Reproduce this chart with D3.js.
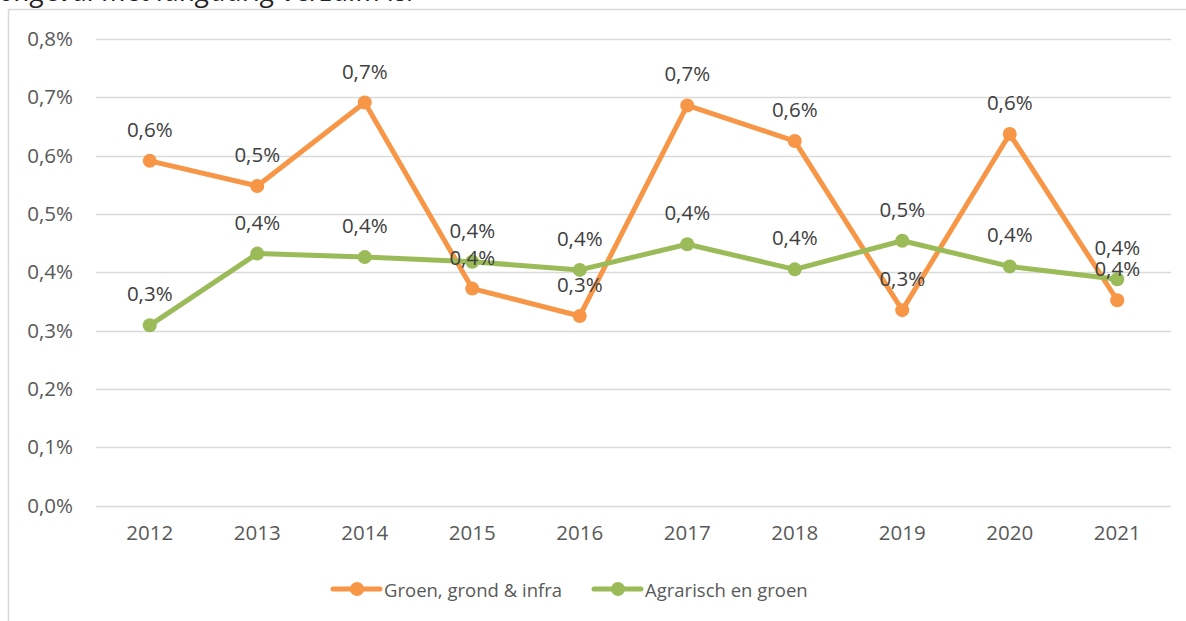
<!DOCTYPE html>
<html>
<head>
<meta charset="utf-8">
<script src="https://cdn.jsdelivr.net/npm/d3@7"></script>
<style>
  html, body { margin: 0; padding: 0; background: #fff; }
  svg { display: block; }
</style>
</head>
<body>
<svg id="chart" width="1186" height="621"></svg>
<script>
const years = ["2012","2013","2014","2015","2016","2017","2018","2019","2020","2021"];
const groenGrondInfra = [0.591, 0.548, 0.691, 0.372, 0.325, 0.686, 0.625, 0.335, 0.637, 0.352];
const agrarischGroen  = [0.309, 0.432, 0.426, 0.418, 0.404, 0.448, 0.405, 0.454, 0.410, 0.388];
const yTicks = [0, 0.1, 0.2, 0.3, 0.4, 0.5, 0.6, 0.7, 0.8];
const seriesNames = ["Groen, grond & infra", "Agrarisch en groen"];
const seriesColors = ["#F79646", "#9BBB59"];
const titleText = "ongeval met langdurig verzuim is.";

const series = [
  { name: seriesNames[0], color: seriesColors[0], values: groenGrondInfra },
  { name: seriesNames[1], color: seriesColors[1], values: agrarischGroen }
];

const svg = d3.select("#chart");
const font = "'Open Sans', 'Noto Sans', sans-serif";
const textColor = "#595959";
const fmt = v => d3.format(".1f")(v).replace(".", ",") + "%";

// cut-off title
svg.append("text")
  .attr("x", -1).attr("y", 0.5)
  .attr("font-family", font).attr("font-style", "italic")
  .attr("font-size", 28).attr("fill", "#222")
  .text(titleText);

// frame
svg.append("rect")
  .attr("x", 8.5).attr("y", 9.5).attr("width", 1200).attr("height", 700)
  .attr("fill", "none").attr("stroke", "#D9D9D9").attr("stroke-width", 1.5);

const x = d3.scaleBand().domain(years).range([96, 1171]);
const y = d3.scaleLinear().domain([0, 0.8]).range([505.5, 39]);

// gridlines
svg.append("g").selectAll("line").data(yTicks).join("line")
  .attr("x1", 96).attr("x2", 1171)
  .attr("y1", d => Math.round(y(d)) + 0.5).attr("y2", d => Math.round(y(d)) + 0.5)
  .attr("stroke", "#D9D9D9").attr("stroke-width", 1.5);

// y axis labels
const yAxis = d3.axisLeft(y).tickValues(yTicks).tickSize(0).tickPadding(0).tickFormat(fmt);
const gy = svg.append("g").attr("transform", "translate(73,0)").call(yAxis);
gy.select(".domain").remove();
gy.selectAll("text").attr("font-family", font).attr("font-size", 20.5).attr("fill", textColor);

// x axis labels
const xAxis = d3.axisBottom(x).tickSize(0).tickPadding(0);
const gx = svg.append("g").attr("transform", "translate(0,525)").call(xAxis);
gx.select(".domain").remove();
gx.selectAll("text").attr("font-family", font).attr("font-size", 20.5).attr("fill", textColor);

const cx = d => x(d) + x.bandwidth() / 2;
const line = d3.line().x((d, i) => cx(years[i])).y(d => y(d));

series.forEach(s => {
  svg.append("path").datum(s.values)
    .attr("d", line).attr("fill", "none")
    .attr("stroke", s.color).attr("stroke-width", 5)
    .attr("stroke-linejoin", "round").attr("stroke-linecap", "round");
  svg.append("g").selectAll("circle").data(s.values).join("circle")
    .attr("cx", (d, i) => cx(years[i])).attr("cy", d => y(d))
    .attr("r", 7).attr("fill", s.color);
});

series.forEach(s => {
  svg.append("g").selectAll("text").data(s.values).join("text")
    .attr("x", (d, i) => cx(years[i])).attr("y", d => y(d) - 32)
    .attr("text-anchor", "middle").attr("dominant-baseline", "central")
    .attr("font-family", font).attr("font-size", 20.5).attr("fill", "#404040")
    .text(d => fmt(d));
});

// legend
const legendItems = [
  { name: seriesNames[0], color: seriesColors[0], x0: 333 },
  { name: seriesNames[1], color: seriesColors[1], x0: 594 }
];
const lg = svg.append("g");
legendItems.forEach(it => {
  lg.append("line").attr("x1", it.x0).attr("x2", it.x0 + 47)
    .attr("y1", 589).attr("y2", 589)
    .attr("stroke", it.color).attr("stroke-width", 5).attr("stroke-linecap", "round");
  lg.append("circle").attr("cx", it.x0 + 24).attr("cy", 589).attr("r", 7).attr("fill", it.color);
  lg.append("text").attr("x", it.x0 + 51).attr("y", 589)
    .attr("dominant-baseline", "central")
    .attr("font-family", font).attr("font-size", 18.5).attr("fill", textColor)
    .text(it.name);
});
</script>
</body>
</html>
